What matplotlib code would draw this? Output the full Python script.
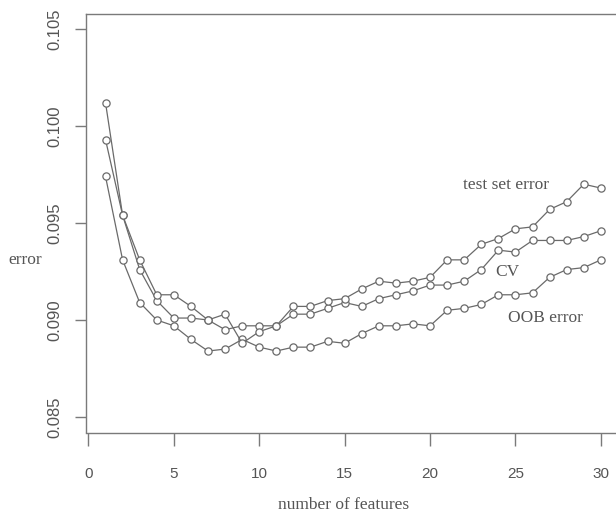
#!/usr/bin/env python3
"""Error vs number of features: test set error, CV and OOB error curves."""

import matplotlib

matplotlib.use("Agg")
import matplotlib.pyplot as plt
import numpy as np

n_features = list(range(1, 31))

test_error = [0.1012, 0.0954, 0.0931, 0.0913, 0.0913, 0.0907, 0.0900, 0.0903,
              0.0888, 0.0894, 0.0897, 0.0907, 0.0907, 0.0910, 0.0911, 0.0916,
              0.0920, 0.0919, 0.0920, 0.0922, 0.0931, 0.0931, 0.0939, 0.0942,
              0.0947, 0.0948, 0.0957, 0.0961, 0.0970, 0.0968]
cv_error = [0.0993, 0.0954, 0.0926, 0.0910, 0.0901, 0.0901, 0.0900, 0.0895,
            0.0897, 0.0897, 0.0897, 0.0903, 0.0903, 0.0906, 0.0909, 0.0907,
            0.0911, 0.0913, 0.0915, 0.0918, 0.0918, 0.0920, 0.0926, 0.0936,
            0.0935, 0.0941, 0.0941, 0.0941, 0.0943, 0.0946]
oob_error = [0.0974, 0.0931, 0.0909, 0.0900, 0.0897, 0.0890, 0.0884, 0.0885,
             0.0890, 0.0886, 0.0884, 0.0886, 0.0886, 0.0889, 0.0888, 0.0893,
             0.0897, 0.0897, 0.0898, 0.0897, 0.0905, 0.0906, 0.0908, 0.0913,
             0.0913, 0.0914, 0.0922, 0.0926, 0.0927, 0.0931]

x_ticks = [0, 5, 10, 15, 20, 25, 30]
y_ticks = [0.085, 0.090, 0.095, 0.100, 0.105]

# label text and where it sits in data units
curve_labels = [("test set error", 24.45, 0.09696),
                ("CV", 24.5, 0.09247),
                ("OOB error", 26.73, 0.0901)]

LINE = "#6a6a6a"
AXIS = "#7a7a7a"
TEXT = "#555555"
SERIF = ["Liberation Serif", "DejaVu Serif"]
SANS = ["Liberation Sans", "DejaVu Sans"]


def main():
    W, H = 616, 518
    fig = plt.figure(figsize=(W / 100, H / 100), dpi=100)
    # axes box runs past the right edge, like the cropped original
    ax = fig.add_axes([85.7 / W, 85.5 / H, 535 / W, 419 / H])

    for ys in (oob_error, cv_error, test_error):
        ax.plot(n_features, ys, color=LINE, lw=0.9, marker="o", ms=5.2,
                mfc="white", mec=LINE, mew=0.9)

    for text, x, y in curve_labels:
        ax.text(x, y, text, ha="center", va="center", color=TEXT,
                fontsize=12.5, family=SERIF)

    ax.set_xlim(-0.16, 31.16)
    ax.set_ylim(0.0842, 0.1058)
    ax.set_xticks(x_ticks)
    ax.set_yticks(y_ticks)
    ax.set_xticklabels([str(t) for t in x_ticks])
    ax.set_yticklabels([f"{t:.3f}" for t in y_ticks], rotation=90, va="center")

    for side in ("left", "bottom", "top", "right"):
        ax.spines[side].set_color(AXIS)
        ax.spines[side].set_linewidth(1.0)
    ax.tick_params(axis="x", length=9, width=1.0, color=AXIS, pad=16,
                   labelsize=11, labelcolor=TEXT)
    ax.tick_params(axis="y", length=8, width=1.0, color=AXIS, pad=8.5,
                   labelsize=12, labelcolor=TEXT)
    for lab in ax.get_xticklabels() + ax.get_yticklabels():
        lab.set_family(SANS)

    fig.text(344 / W, 1 - 505 / H, "number of features", ha="center",
             va="center", color=TEXT, fontsize=12.5, family=SERIF)
    fig.text(25 / W, 1 - 260 / H, "error", ha="center", va="center",
             color=TEXT, fontsize=12.5, family=SERIF)

    fig.savefig("out.png", dpi=100)
    plt.close(fig)
    return 0


if __name__ == "__main__":
    raise SystemExit(main())
